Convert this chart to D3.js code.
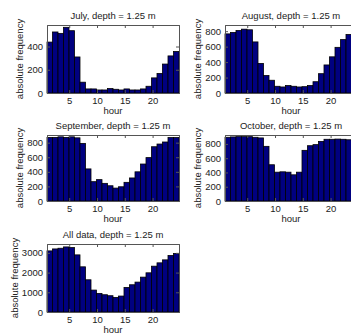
<!DOCTYPE html>
<html>
<head>
<meta charset="utf-8">
<script src="https://cdn.jsdelivr.net/npm/d3@7"></script>
<style>
  body { margin: 0; background: #ffffff; }
  text { font-family: "Liberation Sans", Arial, sans-serif; fill: #222; }
  .tick-label { font-family: "Liberation Sans Narrow", "Liberation Sans", Arial, sans-serif; }
</style>
</head>
<body>
<div id="vis"></div>
<script>
var w = 351;
var h = 336;

// counts per hour
var hours = [1, 2, 3, 4, 5, 6, 7, 8, 9, 10, 11, 12, 13, 14, 15, 16, 17, 18, 19, 20, 21, 22, 23, 24];
var july = [438, 525, 513, 565, 536, 310, 93, 35, 35, 26, 26, 38, 32, 26, 35, 26, 26, 35, 58, 130, 168, 249, 319, 357];
var august = [765, 783, 809, 826, 818, 661, 383, 226, 165, 87, 78, 96, 87, 78, 82, 96, 146, 250, 363, 468, 591, 691, 757, 790];
var september = [872, 872, 880, 872, 880, 866, 790, 440, 265, 293, 242, 209, 177, 195, 256, 316, 400, 507, 595, 744, 781, 809, 870, 870];
var october = [893, 898, 902, 902, 902, 893, 884, 766, 508, 404, 409, 404, 367, 404, 710, 775, 790, 835, 865, 865, 868, 865, 858, 860];
var allData = [3100, 3200, 3235, 3302, 3269, 2898, 2292, 1634, 1112, 944, 876, 826, 741, 809, 1247, 1382, 1517, 1769, 1988, 2325, 2494, 2645, 2865, 2966];

var xTicks = [5, 10, 15, 20];
var titles = ['July, depth = 1.25 m', 'August, depth = 1.25 m', 'September, depth = 1.25 m', 'October, depth = 1.25 m', 'All data, depth = 1.25 m'];
var yMaxes = [585, 880, 905, 925, 3450];
var yTickSets = [[0, 200, 400], [0, 200, 400, 600, 800], [0, 200, 400, 600, 800], [0, 200, 400, 600, 800], [0, 1000, 2000, 3000]];

// panel boxes (plot area)
var panels = [
  {x: 47, y: 25, w: 132, h: 68},
  {x: 225, y: 25, w: 132, h: 68},
  {x: 47, y: 135, w: 132, h: 66},
  {x: 225, y: 135, w: 132, h: 66},
  {x: 47, y: 244, w: 132, h: 68}
];
var series = [july, august, september, october, allData];

var svg = d3.select('#vis')
  .append('svg')
    .attr('width', w)
    .attr('height', h)
    .style('background', '#ffffff');

var xDomain = [1, 24.75];
var binW = (xDomain[1] - xDomain[0]) / hours.length;

series.forEach(function(values, i) {
  var p = panels[i];
  var g = svg.append('g')
    .attr('transform', 'translate(' + p.x + ',' + p.y + ')');

  var x = d3.scaleLinear().domain(xDomain).range([0, p.w]);
  var y = d3.scaleLinear().domain([0, yMaxes[i]]).range([p.h, 0]);

  g.append('rect')
    .attr('width', p.w)
    .attr('height', p.h)
    .attr('fill', '#ffffff');

  // bars
  g.selectAll('.bar')
    .data(values)
    .enter()
    .append('rect')
      .attr('class', 'bar')
      .attr('x', function(d, j) { return x(xDomain[0] + j * binW); })
      .attr('width', function(d, j) { return x(xDomain[0] + (j + 1) * binW) - x(xDomain[0] + j * binW); })
      .attr('y', function(d) { return y(d); })
      .attr('height', function(d) { return p.h - y(d); })
      .attr('fill', '#000080')
      .attr('stroke', '#000000')
      .attr('stroke-width', 0.8);

  // axes, ticks inside like matlab
  var tickLen = 3;
  g.append('g')
    .attr('transform', 'translate(0,' + p.h + ')')
    .call(d3.axisBottom(x).tickValues(xTicks).tickSize(-tickLen).tickPadding(4))
    .call(styleAxis);
  g.append('g')
    .call(d3.axisTop(x).tickValues(xTicks).tickSize(-tickLen).tickFormat(''))
    .call(styleAxis);
  var yAxisG = g.append('g')
    .call(d3.axisLeft(y).tickValues(yTickSets[i]).tickSize(-tickLen).tickPadding(4).tickFormat(d3.format('d')))
    .call(styleAxis);
  g.append('g')
    .attr('transform', 'translate(' + p.w + ',0)')
    .call(d3.axisRight(y).tickValues(yTickSets[i]).tickSize(-tickLen).tickFormat(''))
    .call(styleAxis);

  // titles and labels
  g.append('text')
    .attr('x', p.w / 2)
    .attr('y', -6)
    .attr('text-anchor', 'middle')
    .style('font-size', '9.5px')
    .text(titles[i]);
  g.append('text')
    .attr('x', p.w / 2)
    .attr('y', p.h + 21)
    .attr('text-anchor', 'middle')
    .style('font-size', '9.5px')
    .text('hour');

  // y label sits just left of the widest tick label
  var bb = yAxisG.node().getBBox();
  g.append('text')
    .attr('transform', 'translate(' + (bb.x - 4) + ',' + (p.h / 2) + ') rotate(-90)')
    .attr('text-anchor', 'middle')
    .style('font-size', '9.5px')
    .text('absolute frequency');
});

function styleAxis(sel) {
  sel.select('.domain').attr('stroke', '#555555').attr('stroke-width', 1);
  sel.selectAll('.tick line').attr('stroke', '#555555');
  sel.selectAll('.tick text')
    .attr('class', 'tick-label')
    .style('font-size', '9.5px')
    .attr('fill', '#222');
}
</script>
</body>
</html>
